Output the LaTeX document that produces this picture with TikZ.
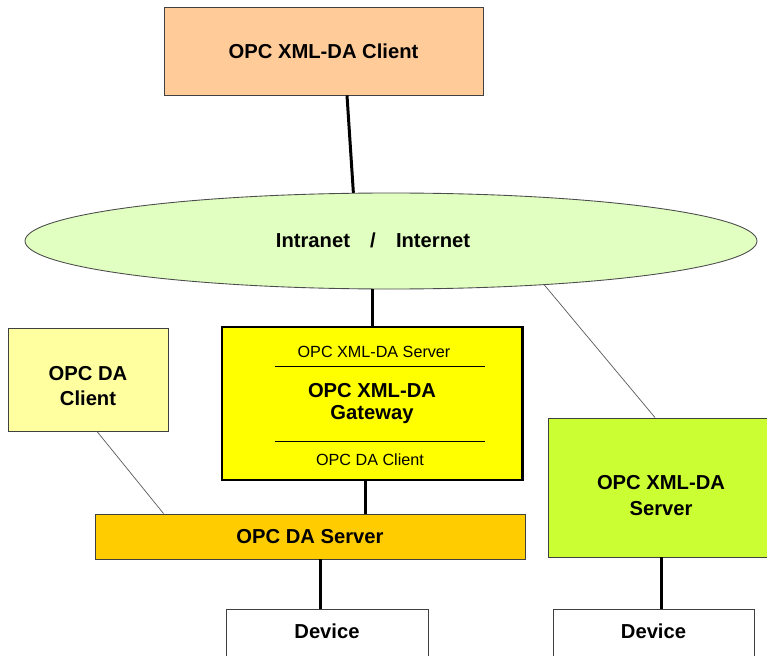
\documentclass[tikz,border=0pt]{standalone}
\usepackage{fontspec}
\setmainfont{Liberation Sans}
\usetikzlibrary{shapes.geometric,calc}
\definecolor{clientPeach}{RGB}{255,204,153}
\definecolor{netGreen}{RGB}{224,255,192}
\definecolor{clientYellow}{RGB}{255,255,160}
\definecolor{serverOrange}{RGB}{255,204,0}
\definecolor{serverLime}{RGB}{204,255,51}
\definecolor{gateYellow}{RGB}{255,255,0}

\begin{document}
\begin{tikzpicture}[font=\bfseries\fontsize{11.5}{14}\selectfont,
        box/.style={draw=black!75,line width=0.5pt,align=center,inner sep=1pt},
        sub/.style={font=\fontsize{9.2}{11}\selectfont},
        lnk/.style={line width=1.7pt},
        faint/.style={draw=black!65,line width=0.4pt}]
        \useasboundingbox (0,0) rectangle (15.34,13.1);
        \node[box,fill=clientPeach,minimum width=6.38cm,minimum height=1.76cm] (xmlcl) at (6.47,12.08) {OPC XML-DA Client};
        \node[draw=black!70,line width=0.5pt,fill=netGreen,ellipse,minimum width=14.64cm,minimum height=1.92cm] (net) at (7.82,8.28) {};
        \node (netlbl) at (7.46,8.30) {Intranet\hspace{1em}/\hspace{1em}Internet};
        \node[box,draw=black,line width=1.7pt,fill=gateYellow,minimum width=6cm,minimum height=3.06cm] (gw) at (7.44,5.03) {OPC XML-DA\\[-2pt]Gateway};
        \node[sub] (gwsrv) at (7.48,6.06) {OPC XML-DA Server};
        \node[sub] (gwcl) at (7.40,3.90) {OPC DA Client};
        \draw[line width=0.6pt] ($(gw.north west)+(1.08,-0.82)$) -- ($(gw.north east)+(-0.78,-0.82)$);
        \draw[line width=0.6pt] ($(gw.south west)+(1.08,0.80)$) -- ($(gw.south east)+(-0.78,0.80)$);
        \node[box,fill=clientYellow,minimum width=3.2cm,minimum height=2.06cm,text height=29.5pt] (dacl) at (1.76,5.51) {OPC DA\\Client};
        \node[box,fill=serverOrange,minimum width=8.6cm,minimum height=0.9cm] (dasrv) at (6.2,2.37) {OPC DA Server};
        \node[box,fill=serverLime,minimum width=4.52cm,minimum height=2.78cm,text height=32pt] (xmlsrv) at (13.22,3.35) {OPC XML-DA\\[1pt]Server};
        \node[box,fill=white,anchor=north,minimum width=4.04cm,minimum height=1.3cm,text depth=0.42cm] (dev1) at (6.54,0.92) {Device};
        \node[box,fill=white,anchor=north,minimum width=4.02cm,minimum height=1.3cm,text depth=0.42cm] (dev2) at (13.07,0.92) {Device};
        \draw[lnk] ([xshift=4.7mm]xmlcl.south) -- (net.128);
        \draw[lnk] (gw.north |- net.south) -- (gw.north);
        \draw[lnk] ([xshift=-1.4mm]gw.south) -- ([xshift=-1.4mm]gw.south |- dasrv.north);
        \draw[lnk] ([xshift=-1.4mm]dev1.north) -- ([xshift=-1.4mm]dev1.north |- dasrv.south);
        \draw[lnk] (xmlsrv.south) -- (xmlsrv.south |- dev2.north);
        \draw[faint] ([xshift=1.8mm]dacl.south) -- ([xshift=13.8mm]dasrv.north west);
        \draw[faint] (net.-16) -- ([xshift=-1.2mm]xmlsrv.north);
      \end{tikzpicture}
\end{document}
